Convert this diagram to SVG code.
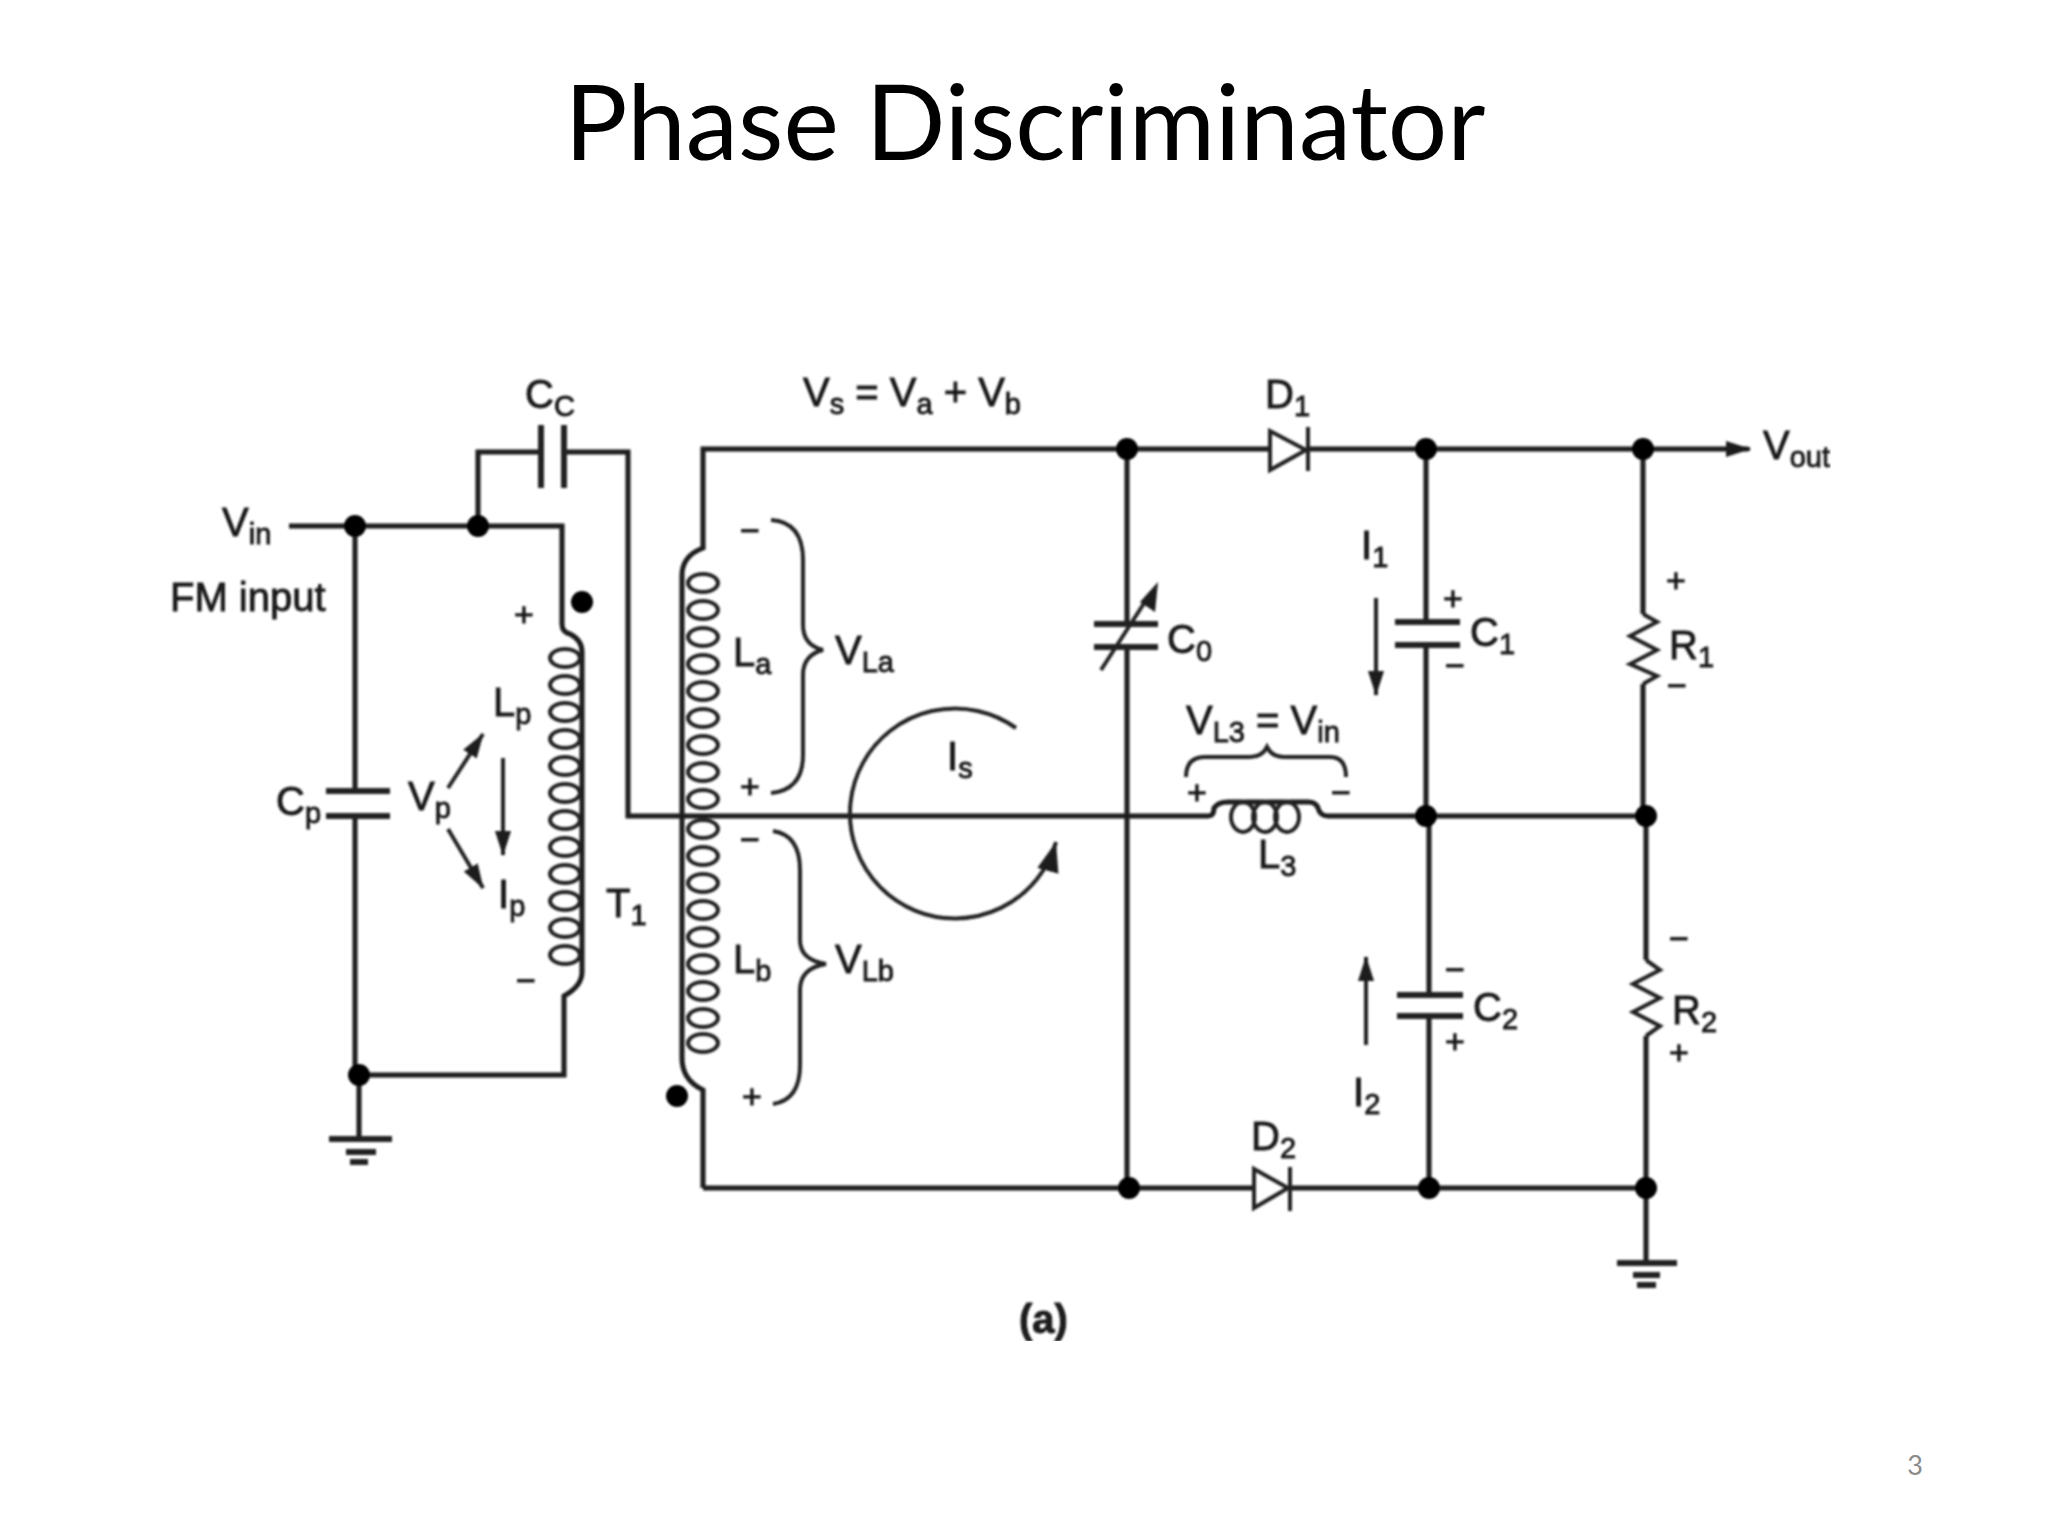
<svg xmlns="http://www.w3.org/2000/svg" width="2048" height="1536" viewBox="0 0 2048 1536">
<style>
.w{fill:none;stroke:#1a1a1a;stroke-width:5}
.t{fill:none;stroke:#222;stroke-width:4}
.c{fill:none;stroke:#222;stroke-width:4}
.p{fill:none;stroke:#222;stroke-width:6}
.j{fill:#000}
text{font-family:"Liberation Sans",Arial,sans-serif;font-size:40px;fill:#1a1a1a;stroke:#1a1a1a;stroke-width:.9}
.s{font-size:29px}
.m{font-size:34px;text-anchor:middle}
.title{font-family:Lato,"Open Sans",sans-serif;font-size:105px;fill:#000;stroke:none}
.num{font-family:Lato,"Open Sans",sans-serif;font-size:27px;fill:#8a8a8a;stroke:none}
</style>
<defs>
<filter id="soft" x="0" y="0" width="100%" height="100%"><feGaussianBlur stdDeviation="0.8"/></filter>
<marker id="a" markerUnits="userSpaceOnUse" markerWidth="26" markerHeight="20" refX="24" refY="8" orient="auto"><path d="M0,0L25,8L0,16Z" fill="#1a1a1a"/></marker>
<marker id="b" markerUnits="userSpaceOnUse" markerWidth="34" markerHeight="26" refX="30" refY="11" orient="auto"><path d="M0,0L30,11L0,22Z" fill="#1a1a1a"/></marker>
</defs>
<text id="title" class="title" x="1025" y="160" text-anchor="middle">Phase Discriminator</text>
<text id="page" class="num" x="1915" y="1475" text-anchor="middle">3</text>
<g id="circuit" filter="url(#soft)">
<g id="connectors">
<path class="w" d="M289,526H562V624Q562,632 570,634Q582,640 582,652V972Q582,986 564,996V1075H359"/>
<path class="w" d="M355,526V791M355,816V1075M359,1075V1138"/>
<path class="w" d="M478,526V452H541M564,452H628V816H1208Q1214,816 1214,808Q1218,802 1228,802H1308Q1316,802 1318,808Q1320,816 1328,816H1646"/>
<path class="w" d="M703,1188V1090Q682,1080 682,1058V575Q682,556 703,548V449H1270M1308,449H1748"/>
<path class="w" d="M703,1188H1254M1290,1188H1646"/>
<path class="w" d="M1127,449V624M1127,647V1188"/>
<path class="w" d="M1426,449V622M1426,645V816M1429,816V995M1429,1016V1188"/>
<path class="w" d="M1643,449V614M1643,684V816M1646,816V960M1646,1036V1262"/>
<path class="t" d="M1748,449H1750" marker-end="url(#a)"/>
<path class="t" d="M448,788L483,734" marker-end="url(#a)"/>
<path class="t" d="M448,829L483,888" marker-end="url(#a)"/>
<path class="t" d="M503,758V855" marker-end="url(#a)"/>
<path class="t" d="M1376,598V695" marker-end="url(#a)"/>
<path class="t" d="M1366,1045V957" marker-end="url(#a)"/>
<path class="t" d="M1016,728A105,105 0 1 0 1056,842" marker-end="url(#b)"/>
<path class="t" d="M771,520Q803,522 803,560V625Q803,645 823,650Q803,655 803,675V755Q803,790 771,793"/>
<path class="t" d="M773,831Q800,835 800,870V940Q800,960 826,964Q800,968 800,990V1065Q800,1100 773,1104"/>
<path class="t" d="M1186,777Q1186,757 1205,757H1250Q1262,757 1267,747Q1272,757 1284,757H1330Q1346,757 1346,777"/>
</g>
<g id="junctions" class="j">
<circle cx="355" cy="526" r="11"/><circle cx="478" cy="526" r="11"/><circle cx="359" cy="1075" r="11"/>
<circle cx="1127" cy="449" r="11"/><circle cx="1426" cy="449" r="11"/><circle cx="1643" cy="449" r="11"/>
<circle cx="1426" cy="816" r="11"/><circle cx="1646" cy="816" r="11"/>
<circle cx="1129" cy="1188" r="11"/><circle cx="1429" cy="1188" r="11"/><circle cx="1646" cy="1188" r="11"/>
<circle cx="582" cy="602" r="11"/><circle cx="677" cy="1096" r="11"/>
</g>
<g id="Cc"><path class="p" d="M541,425V488M564,425V488"/><text x="525" y="408">C<tspan class="s" dy="8">C</tspan></text></g>
<g id="Cp"><path class="p" d="M326,791H390M326,816H390"/><text x="276" y="815">C<tspan class="s" dy="8">p</tspan></text></g>
<g id="Lp">
<g class="c"><ellipse cx="565" cy="658" rx="15" ry="9"/><ellipse cx="565" cy="685" rx="15" ry="9"/><ellipse cx="565" cy="712" rx="15" ry="9"/><ellipse cx="565" cy="739" rx="15" ry="9"/><ellipse cx="565" cy="766" rx="15" ry="9"/><ellipse cx="565" cy="793" rx="15" ry="9"/><ellipse cx="565" cy="820" rx="15" ry="9"/><ellipse cx="565" cy="847" rx="15" ry="9"/><ellipse cx="565" cy="874" rx="15" ry="9"/><ellipse cx="565" cy="901" rx="15" ry="9"/><ellipse cx="565" cy="928" rx="15" ry="9"/><ellipse cx="565" cy="955" rx="15" ry="9"/></g>
<text x="493" y="716">L<tspan class="s" dy="8">p</tspan></text>
<text class="m" x="524" y="626">+</text><text class="m" x="526" y="992">−</text></g>
<g id="Vp"><text x="408" y="810">V<tspan class="s" dy="8">p</tspan></text></g>
<g id="Ip"><text x="498" y="908">I<tspan class="s" dy="8">p</tspan></text></g>
<g id="T1"><text x="606" y="917">T<tspan class="s" dy="8">1</tspan></text></g>
<g id="Vin"><text x="222" y="536">V<tspan class="s" dy="8">in</tspan></text><text x="170" y="611">FM input</text></g>
<g id="Ls">
<g class="c"><ellipse cx="703" cy="583" rx="15" ry="9"/><ellipse cx="703" cy="610" rx="15" ry="9"/><ellipse cx="703" cy="637" rx="15" ry="9"/><ellipse cx="703" cy="664" rx="15" ry="9"/><ellipse cx="703" cy="691" rx="15" ry="9"/><ellipse cx="703" cy="718" rx="15" ry="9"/><ellipse cx="703" cy="745" rx="15" ry="9"/><ellipse cx="703" cy="772" rx="15" ry="9"/><ellipse cx="703" cy="799" rx="15" ry="9"/><ellipse cx="703" cy="829" rx="15" ry="9"/><ellipse cx="703" cy="856" rx="15" ry="9"/><ellipse cx="703" cy="883" rx="15" ry="9"/><ellipse cx="703" cy="910" rx="15" ry="9"/><ellipse cx="703" cy="937" rx="15" ry="9"/><ellipse cx="703" cy="964" rx="15" ry="9"/><ellipse cx="703" cy="991" rx="15" ry="9"/><ellipse cx="703" cy="1018" rx="15" ry="9"/><ellipse cx="703" cy="1043" rx="15" ry="9"/></g>
<text x="733" y="666">L<tspan class="s" dy="8">a</tspan></text><text x="835" y="664">V<tspan class="s" dy="8">La</tspan></text>
<text x="733" y="973">L<tspan class="s" dy="8">b</tspan></text><text x="835" y="973">V<tspan class="s" dy="8">Lb</tspan></text>
<text class="m" x="750" y="542">−</text><text class="m" x="750" y="798">+</text><text class="m" x="750" y="851">−</text><text class="m" x="752" y="1108">+</text>
</g>
<g id="Is"><text x="947" y="770">I<tspan class="s" dy="8">s</tspan></text></g>
<g id="Vs"><text x="803" y="406">V<tspan class="s" dy="8">s</tspan><tspan dy="-8"> = V</tspan><tspan class="s" dy="8">a</tspan><tspan dy="-8"> + V</tspan><tspan class="s" dy="8">b</tspan></text></g>
<g id="D1"><path class="t" d="M1270,431V470L1306,450ZM1308,427V471"/><text x="1265" y="408">D<tspan class="s" dy="8">1</tspan></text></g>
<g id="D2"><path class="t" d="M1254,1169V1208L1288,1188ZM1290,1167V1211"/><text x="1251" y="1150">D<tspan class="s" dy="8">2</tspan></text></g>
<g id="C0"><path class="t" d="M1101,670L1150,594"/><path d="M1158,582L1155,612L1140,602Z" fill="#1a1a1a"/><path class="p" d="M1094,624H1158M1094,647H1158"/><text x="1167" y="653">C<tspan class="s" dy="8">0</tspan></text></g>
<g id="C1"><path class="p" d="M1395,622H1460M1395,645H1460"/><text x="1470" y="646">C<tspan class="s" dy="8">1</tspan></text><text class="m" x="1453" y="610">+</text><text class="m" x="1455" y="677">−</text></g>
<g id="I1"><text x="1361" y="559">I<tspan class="s" dy="8">1</tspan></text></g>
<g id="C2"><path class="p" d="M1397,995H1463M1397,1016H1463"/><text x="1473" y="1021">C<tspan class="s" dy="8">2</tspan></text><text class="m" x="1455" y="981">−</text><text class="m" x="1455" y="1053">+</text></g>
<g id="I2"><text x="1353" y="1106">I<tspan class="s" dy="8">2</tspan></text></g>
<g id="R1"><path class="t" d="M1643,614L1657,622L1630,636L1657,650L1630,664L1657,676L1643,684"/><text x="1669" y="659">R<tspan class="s" dy="8">1</tspan></text><text class="m" x="1676" y="592">+</text><text class="m" x="1677" y="697">−</text></g>
<g id="R2"><path class="t" d="M1646,960L1660,970L1633,984L1660,998L1633,1012L1660,1026L1646,1036"/><text x="1672" y="1024">R<tspan class="s" dy="8">2</tspan></text><text class="m" x="1679" y="950">−</text><text class="m" x="1679" y="1064">+</text></g>
<g id="L3"><g class="c"><ellipse cx="1243" cy="817" rx="12" ry="15"/><ellipse cx="1265" cy="817" rx="12" ry="15"/><ellipse cx="1287" cy="817" rx="12" ry="15"/></g>
<text x="1258" y="868">L<tspan class="s" dy="8">3</tspan></text><text x="1186" y="734">V<tspan class="s" dy="8">L3</tspan><tspan dy="-8"> = V</tspan><tspan class="s" dy="8">in</tspan></text>
<text class="m" x="1197" y="804">+</text><text class="m" x="1341" y="804">−</text></g>
<g id="Gnd1"><path class="p" d="M329,1139H392M346,1152H376M350,1162H368"/></g>
<g id="Gnd2"><path class="p" d="M1617,1263H1677M1633,1275H1660M1637,1285H1656"/></g>
<g id="Vout"><text x="1763" y="459">V<tspan class="s" dy="8">out</tspan></text></g>
<text id="caption" x="1019" y="1333" style="font-weight:bold">(a)</text>
</g>
</svg>
